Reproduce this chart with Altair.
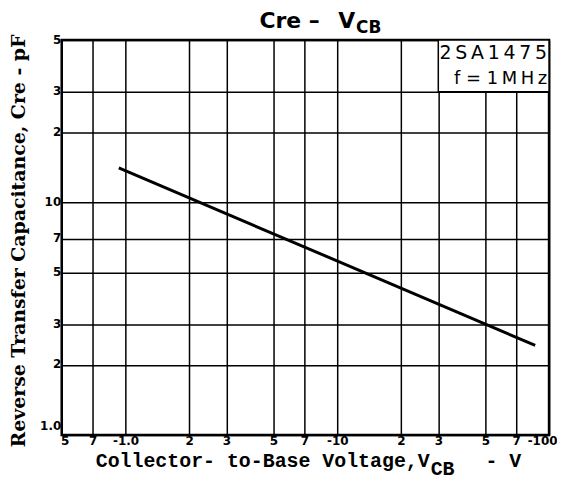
import altair as alt
import pandas as pd

# Data
vcb = [0.93, 86.0]          # |V_CB| in volts (plotted as -V)
cre = [14.1, 2.43]          # Cre in pF

x_ticks = [0.5, 0.7, 1, 2, 3, 5, 7, 10, 20, 30, 50, 70, 100]
x_tick_labels = ["5", "7", "-1.0", "2", "3", "5", "7", "-10", "2", "3", "5", "7", "-100"]
y_ticks = [1, 2, 3, 5, 7, 10, 20, 30, 50]
y_tick_labels = ["1.0", "2", "3", "5", "7", "10", "2", "3", "5"]

box_x = [30, 100]
box_y = [30, 50]

W, H = 490, 397


def label_expr(vals, labels):
    arr_l = "[" + ",".join("'%s'" % s for s in labels) + "]"
    arr_v = "[" + ",".join(repr(float(v)) for v in vals) + "]"
    return "%s[indexof(%s, datum.value)]" % (arr_l, arr_v)


xscale = alt.Scale(type="log", domain=[0.5, 100], nice=False)
yscale = alt.Scale(type="log", domain=[1, 50], nice=False)

common_axis = dict(title=None, grid=True, ticks=False, tickSize=0, domain=False,
                   labelPadding=1, labelFont="DejaVu Sans", labelOverlap=False,
                   labelBound=False, labelFlush=False,
                   labelFontWeight="bold", labelFontSize=12, labelColor="black",
                   gridColor="black", gridWidth=1.5, gridOpacity=1)
xaxis = alt.Axis(values=x_ticks, labelExpr=label_expr(x_ticks, x_tick_labels),
                 labelOffset={"condition": [{"test": "datum.value == 100", "value": -7},
                                            {"test": "datum.value == 0.5", "value": 3}],
                              "value": 0},
                 **common_axis)
yaxis = alt.Axis(values=y_ticks, labelExpr=label_expr(y_ticks, y_tick_labels),
                 labelOffset=alt.condition("datum.value == 1", alt.value(-9), alt.value(-1)),
                 **common_axis)

df = pd.DataFrame({"v": vcb, "c": cre})

line = alt.Chart(df).mark_line(color="black", strokeWidth=3).encode(
    x=alt.X("v:Q", scale=xscale, axis=xaxis),
    y=alt.Y("c:Q", scale=yscale, axis=yaxis),
)

box_df = pd.DataFrame({"v": [box_x[0]], "v2": [box_x[1]], "c": [box_y[0]], "c2": [box_y[1]]})
box = alt.Chart(box_df).mark_rect(fill="white", stroke="black", strokeWidth=1.5).encode(
    x=alt.X("v:Q", scale=xscale, axis=xaxis), x2="v2:Q",
    y=alt.Y("c:Q", scale=yscale, axis=yaxis), y2="c2:Q",
)

one = pd.DataFrame({"a": [0]})


def txt(text, x, y, size, font, weight="normal", align="left", angle=0, baseline="alphabetic"):
    return alt.Chart(one).mark_text(
        text=text, font=font, fontSize=size, fontWeight=weight, align=align,
        baseline=baseline, angle=angle, color="black"
    ).encode(x=alt.value(x), y=alt.value(y))


texts = [
    txt("2\u2009S\u2009A\u20091\u20094\u20097\u20095", 488, 19, 19, "DejaVu Sans", align="right"),
    txt("f = 1\u2009M\u2009H\u2009z", 488, 44, 18, "DejaVu Sans", align="right"),
    # title
    txt("Cre \u2013 \u2002V", 295, -12, 22, "DejaVu Sans", weight="bold", align="right"),
    txt("CB", 296, -7, 17, "DejaVu Sans", weight="bold", align="left"),
    # x title
    txt("Collector- to-Base Voltage,V", 370, 429, 20, "Liberation Mono", weight="bold", align="right"),
    txt("CB", 371, 437, 20, "Liberation Mono", weight="bold", align="left"),
    txt("- V", 426, 429, 20, "Liberation Mono", weight="bold", align="left"),
    # y title
    txt("Reverse Transfer Capacitance, Cre - pF", -43, 202, 19, "DejaVu Serif",
        weight="bold", align="center", angle=270, baseline="middle"),
]

chart = alt.layer(line, box, *texts).properties(
    width=W, height=H,
    background="white",
    autosize=alt.AutoSizeParams(type="none"),
    padding={"left": 54, "top": 31, "right": 8, "bottom": 45},
).configure_view(stroke="black", strokeWidth=2.5)

chart.save("out.html", embed_options={"renderer": "svg", "actions": False})
